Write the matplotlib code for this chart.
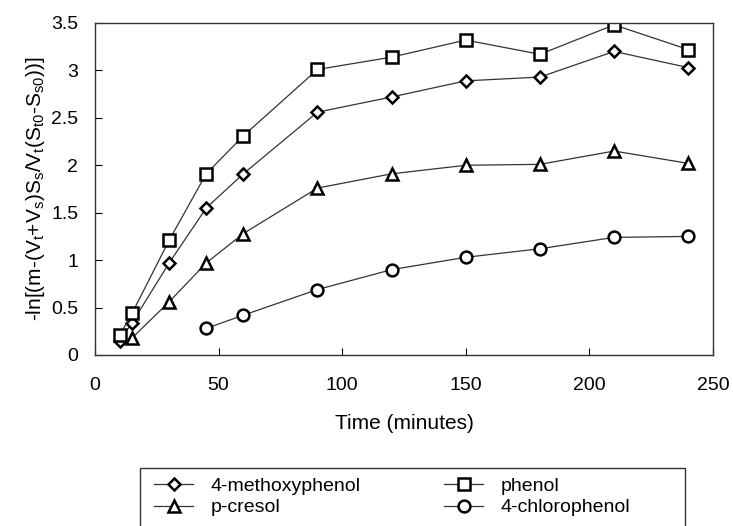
import matplotlib
matplotlib.use("Agg")
import matplotlib.pyplot as plt
from matplotlib.patches import Rectangle

plt.rcParams['font.family'] = ['Liberation Sans', 'DejaVu Sans']
plt.rcParams['mathtext.default'] = 'regular'

# data
t_methoxy = [10, 15, 30, 45, 60, 90, 120, 150, 180, 210, 240]
y_methoxy = [0.15, 0.34, 0.97, 1.55, 1.91, 2.56, 2.72, 2.89, 2.93, 3.20, 3.03]

t_phenol = [10, 15, 30, 45, 60, 90, 120, 150, 180, 210, 240]
y_phenol = [0.21, 0.44, 1.21, 1.91, 2.31, 3.01, 3.14, 3.32, 3.17, 3.48, 3.22]

t_cresol = [15, 30, 45, 60, 90, 120, 150, 180, 210, 240]
y_cresol = [0.18, 0.56, 0.97, 1.28, 1.76, 1.91, 2.00, 2.01, 2.15, 2.02]

t_chloro = [45, 60, 90, 120, 150, 180, 210, 240]
y_chloro = [0.28, 0.42, 0.69, 0.90, 1.03, 1.12, 1.24, 1.25]

fig = plt.figure(figsize=(7.33, 5.26), dpi=100)
ax = fig.add_axes([0.1296, 0.3251, 0.8431, 0.6312])

common = dict(color='#333333', lw=0.9, mfc='white', mec='black', mew=1.8)
h1, = ax.plot(t_methoxy, y_methoxy, marker='D', ms=6.5, label='4-methoxyphenol', **common)
h2, = ax.plot(t_phenol, y_phenol, marker='s', ms=8.5, label='phenol', **common)
h3, = ax.plot(t_cresol, y_cresol, marker='^', ms=9, label='p-cresol', **common)
h4, = ax.plot(t_chloro, y_chloro, marker='o', ms=8.5, label='4-chlorophenol', **common)

ax.set_xlim(0, 250)
ax.set_ylim(0, 3.5)
ax.set_xticks([0, 50, 100, 150, 200, 250])
ax.set_yticks([0, 0.5, 1, 1.5, 2, 2.5, 3, 3.5])
ax.set_yticklabels(['0', '0.5', '1', '1.5', '2', '2.5', '3', '3.5'])
ax.tick_params(direction='in', length=5, labelsize=14, pad=12)
ax.tick_params(axis='x', pad=16)
for s in ax.spines.values():
    s.set_linewidth(1.0)
    s.set_color('#333333')

ax.set_xlabel('Time (minutes)', fontsize=15, labelpad=14)
ax.set_ylabel(r'-ln[(m-(V$_t$+V$_s$)S$_s$/V$_t$(S$_{t0}$-S$_{s0}$))]', fontsize=15, labelpad=3)

# legend in row order: methoxy, phenol / cresol, chloro
leg = fig.legend(handles=[h1, h3, h2, h4], loc='upper left',
                 bbox_to_anchor=(131 / 733, 1 - 454 / 526), ncol=2,
                 fontsize=14, frameon=False, handlelength=2.0,
                 columnspacing=4.3, borderpad=0.7, labelspacing=0.2,
                 handletextpad=0.9)

# legend box runs off the bottom edge, as in the reference
fig.patches.append(Rectangle((140 / 733, -0.05), (685 - 140) / 733, 0.05 + (526 - 468) / 526,
                             transform=fig.transFigure, fill=False, edgecolor='#333333', lw=1.0))

fig.savefig('out.png', dpi=100)
